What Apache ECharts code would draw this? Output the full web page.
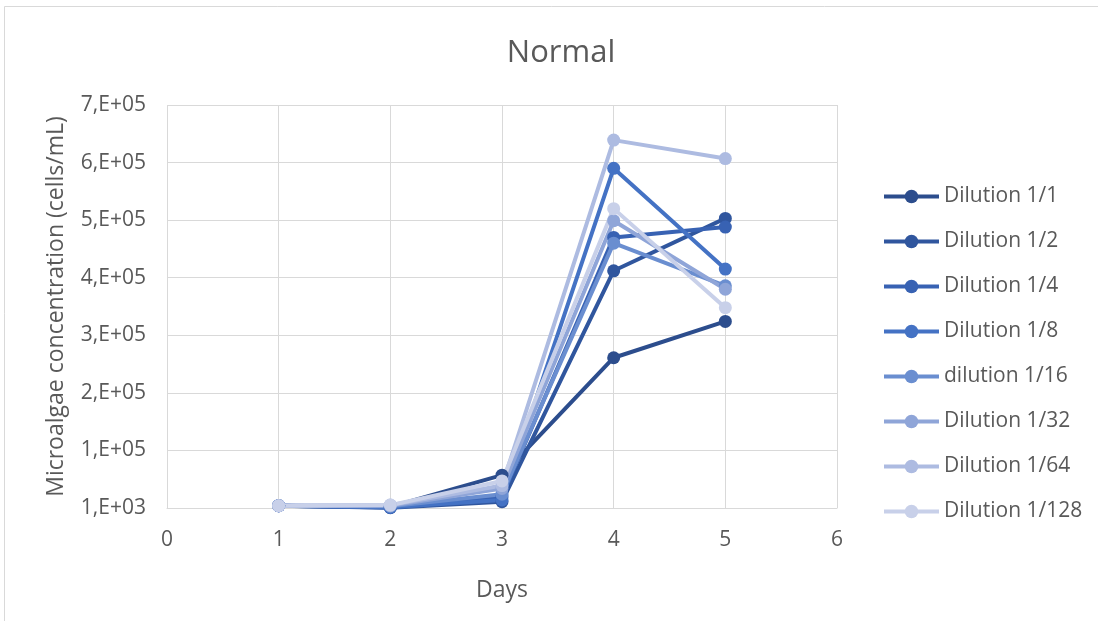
<!DOCTYPE html>
<html>
<head>
<meta charset="utf-8">
<script src="https://cdn.jsdelivr.net/npm/echarts@6/dist/echarts.min.js"></script>
<style>
html,body{margin:0;padding:0;background:#fff;}
#chart{width:1098px;height:621px;}
</style>
</head>
<body>
<div id="chart"></div>
<script>
const days = [1, 2, 3, 4, 5];
const seriesNames = ['Dilution 1/1','Dilution 1/2','Dilution 1/4','Dilution 1/8','dilution 1/16','Dilution 1/32','Dilution 1/64','Dilution 1/128'];
const dil_1_1   = [5000, 3000, 58000, 262000, 325000];
const dil_1_2   = [5000, 1500, 12000, 413000, 504000];
const dil_1_4   = [5000, 2000, 20000, 471000, 489000];
const dil_1_8   = [5000, 2500, 15000, 591000, 416000];
const dil_1_16  = [5000, 4000, 25000, 461000, 387000];
const dil_1_32  = [5000, 5000, 35000, 500000, 381000];
const dil_1_64  = [5000, 6000, 40000, 640000, 608000];
const dil_1_128 = [5000, 6000, 48000, 521000, 349000];
const allValues = [dil_1_1, dil_1_2, dil_1_4, dil_1_8, dil_1_16, dil_1_32, dil_1_64, dil_1_128];
const colors = ['#2C4D8D','#30569E','#3862B3','#4472C4','#6A8ED0','#8FA5D8','#ADBBE1','#C8D0E9'];

const chart = echarts.init(document.getElementById('chart'));
const fontFam = 'Open Sans';
function fmtExp(v){
  const s = Number(v).toExponential(0);
  const m = s.split('e');
  let exp = parseInt(m[1], 10);
  const sign = exp < 0 ? '-' : '+';
  exp = Math.abs(exp);
  return m[0] + ',E' + sign + (exp < 10 ? '0' + exp : '' + exp);
}
const option = {
  animation: false,
  backgroundColor: '#fff',
  color: colors,
  title: {
    text: 'Normal',
    left: 556, top: 33, textAlign: 'center',
    textStyle: {fontFamily: fontFam, fontSize: 31, fontWeight: 'normal', color: '#595959'}
  },
  graphic: [{
    type: 'polyline',
    shape: {points: [[4.5, 621], [4.5, 6.5], [1098, 6.5]]},
    style: {stroke: '#d9d9d9', lineWidth: 1, fill: null},
    silent: true
  }],
  legend: {
    orient: 'vertical',
    left: 877, top: 181,
    itemWidth: 55, itemHeight: 17, itemGap: 24,
    lineStyle: {width: 4},
    textStyle: {fontFamily: fontFam, fontSize: 21, color: '#595959'},
    data: seriesNames
  },
  grid: {left: 167, right: 261, top: 105, bottom: 113, containLabel: false},
  xAxis: {
    type: 'value', min: 0, max: 6, interval: 1,
    name: 'Days', nameLocation: 'middle', nameGap: 71,
    nameTextStyle: {fontFamily: fontFam, fontSize: 23, color: '#595959'},
    axisLine: {show: true, lineStyle: {color: '#d9d9d9', width: 1}},
    axisTick: {show: false},
    axisLabel: {fontFamily: fontFam, fontSize: 21, color: '#595959', margin: 22},
    splitLine: {show: true, lineStyle: {color: '#d9d9d9', width: 1}}
  },
  yAxis: {
    type: 'value', min: 1000, max: 701000, interval: 100000,
    name: 'Microalgae concentration (cells/mL)', nameLocation: 'middle', nameGap: 99, nameRotate: 90,
    nameTextStyle: {fontFamily: fontFam, fontSize: 23, color: '#595959'},
    axisLine: {show: false},
    axisTick: {show: false},
    axisLabel: {fontFamily: fontFam, fontSize: 21, color: '#595959', margin: 21, formatter: fmtExp},
    splitLine: {show: true, lineStyle: {color: '#d9d9d9', width: 1}}
  },
  series: seriesNames.map((n, i) => ({
    name: n,
    type: 'line',
    data: days.map((d, j) => [d, allValues[i][j]]),
    symbol: 'circle',
    symbolSize: 13,
    lineStyle: {width: 4, color: colors[i]},
    itemStyle: {color: colors[i]},
    emphasis: {disabled: true}
  }))
};
chart.setOption(option);
</script>
</body>
</html>
